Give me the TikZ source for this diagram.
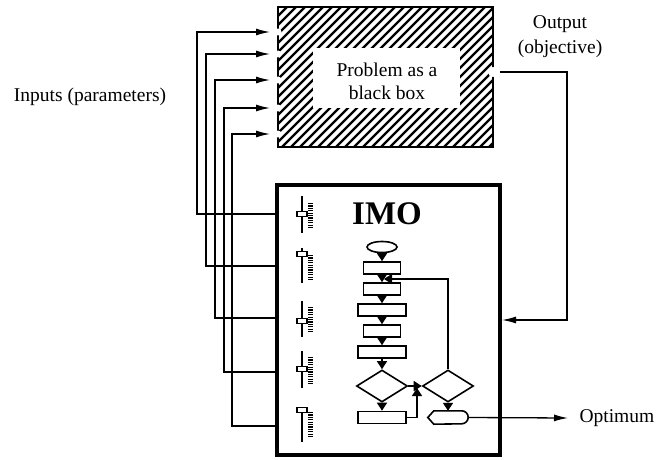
\documentclass[tikz,border=0pt]{standalone}
\usepackage{fontspec}
\setmainfont{Liberation Serif}
\usetikzlibrary{arrows.meta,shapes.geometric}

\tikzset{
    lbl/.style={font=\fontsize{19.5}{23}\selectfont, align=center},
    arr/.style={-{Latex[length=14pt,width=7pt]}, line width=1.3},
    flow/.style={-{Triangle[length=8pt,width=10pt]}, line width=1.5},
    flowbox/.style={draw, line width=1.6, minimum width=#1, minimum height=12, inner sep=0},
    flowbox/.default=37,
    decision/.style={draw, diamond, line width=1.6, minimum width=51, minimum height=32, inner sep=0},
}

\begin{document}
\begin{tikzpicture}[x=1pt,y=-1pt]
    \useasboundingbox (0,0) rectangle (672,460);
    % problem as a black box
    \node[minimum width=215, minimum height=140, inner sep=0] (bbox) at (385.5,77) {};
    \begin{scope}
        \clip (bbox.north west) rectangle (bbox.south east);
        \foreach \i in {126,135,...,500}
            \draw[line width=2.3] (\i,150) -- (\i+146,4);
    \end{scope}
    \fill[white] (313,48) rectangle (460,108);
    \draw[line width=1.5] (bbox.north west) rectangle (bbox.south east);
    \foreach \y in {32,54,80,108,134}
        \fill[white] (278,\y) circle (3.5pt);
    \fill[white] (493,72) circle (5pt);
    \node[lbl] (prob) at (387,81) {Problem as a\\black box};
    % IMO
    \node[draw, line width=4, minimum width=223, minimum height=270, inner sep=0] (imo) at (388.5,320) {};
    \node[font=\fontsize{33}{36}\bfseries\selectfont] (title) at (387,214) {IMO};
    % sliders
    \foreach \a/\b/\k/\c/\d in {196/233/214/203/229, 248/283/254/255/280, 301/337/321/307/333,
                                351/388/369/357/384, 407/442/410/412/437} {
        \draw[line width=1.4] (302,\a) -- (302,\b);
        \draw[line width=5, dash pattern=on 1.1 off 1.3] (310,\c) -- (310,\d);
        \draw[line width=1.1, fill=white] (297,\k-2.5) rectangle (307,\k+2.5);
    }
    % inputs
    \foreach \i/\x/\ya/\yb in {1/197/32/214, 2/206/54/266, 3/215/80/318, 4/224/108/372, 5/232/134/426} {
        \coordinate (in\i) at (270,\ya);
        \coordinate (sl\i) at (imo.west |- 0,\yb);
        \draw[arr] (sl\i) -- (\x,\yb) -- (\x,\ya) -- (in\i);
    }
    \node[lbl] (inlbl) at (90,97) {Inputs (parameters)};
    % output
    \coordinate (outp) at (500,72);
    \draw[arr] (outp) -- (567,72) |- (imo.east);
    \node[lbl] (outlbl) at (560,37) {Output\\[2pt](objective)};
    % flowchart
    \node[draw, ellipse, line width=1.6, minimum width=30, minimum height=11, inner sep=0] (start) at (382,247) {};
    \node[flowbox] (b1) at (382,268) {};
    \node[flowbox] (b2) at (382,289) {};
    \node[flowbox=48] (b3) at (382,310) {};
    \node[flowbox] (b4) at (382,331) {};
    \node[flowbox=48] (b5) at (382,352) {};
    \node[decision] (d1) at (382,386) {};
    \node[decision] (d2) at (448,386) {};
    \node[flowbox=48] (b6) at (382,417.5) {};
    \node[minimum width=40, minimum height=13, inner sep=0] (term) at (448,417.5) {};
    \draw[line width=1.6] (term.west) -- ([xshift=6]term.north west) -- ([xshift=-6.5]term.north east)
        arc (90:-90:6.5pt) -- ([xshift=6]term.south west) -- cycle;
    \draw[flow] (start.south) -- (b1.north);
    \draw[flow] (b1.south) -- (b2.north);
    \draw[flow] (b2.south) -- (b3.north);
    \draw[flow] (b3.south) -- (b4.north);
    \draw[flow] (b4.south) -- (b5.north);
    \draw[flow] (b5.south) -- (d1.north);
    \draw[flow] (d1.south) -- (b6.north);
    \draw[flow] (d1.east) -- (d2.west);
    \draw[flow] (d2.south) -- (term.north);
    \coordinate (join) at (417,388);
    \draw[flow] (b6.east) -| (join);
    \coordinate (back) at (384,279);
    \draw[flow] (d2.north) |- (back);
    % optimum
    \node[lbl, anchor=west] (opt) at (576,418) {Optimum};
    \draw[arr] (term.east) -- ([xshift=-8]opt.west);
\end{tikzpicture}
\end{document}
